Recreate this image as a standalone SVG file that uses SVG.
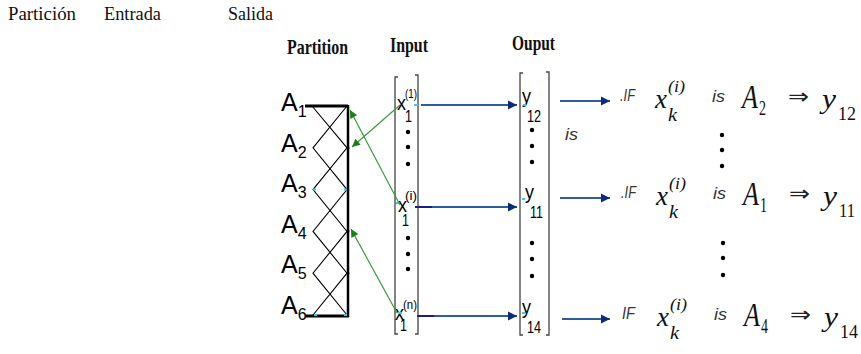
<svg xmlns="http://www.w3.org/2000/svg" width="861" height="354" viewBox="0 0 861 354">
  <defs>
    <style>
      .cap{font-family:"Liberation Serif","Times New Roman",serif;font-size:18px;fill:#111}
      .hd{font-family:"Liberation Serif","Times New Roman",serif;font-size:21px;font-weight:bold;fill:#111}
      .al{font-family:"Liberation Sans",Arial,sans-serif;font-size:25px;fill:#000}
      .as{font-family:"Liberation Sans",Arial,sans-serif;font-size:16px;fill:#000}
      .vx{font-family:"Liberation Sans",Arial,sans-serif;font-size:21px;fill:#000}
      .vs{font-family:"Liberation Sans",Arial,sans-serif;font-size:17px;fill:#000}
      .vp{font-family:"Liberation Sans",Arial,sans-serif;font-size:13px;fill:#000}
      .it{font-family:"Liberation Sans",Arial,sans-serif;font-style:italic;font-size:16px;fill:#333}
      .mi{font-family:"Liberation Serif","Times New Roman",serif;font-style:italic;fill:#111}
      .mr{font-family:"Liberation Serif","Times New Roman",serif;fill:#111}
      .imp{font-family:"DejaVu Sans",sans-serif;font-size:22px;fill:#222}
      .brk{fill:none;stroke:#444;stroke-width:1.3}
      .frame{fill:none;stroke:#000;stroke-width:3}
      .zig{fill:none;stroke:#000;stroke-width:1.1}
      .blue{stroke:#2f5d9c;stroke-width:2;fill:none}
      .navy{stroke:#1c1c82;stroke-width:2;fill:none}
      .green{stroke:#3a9b3a;stroke-width:1.2;fill:none}
      .dot{fill:#000}
      .cy{stroke:#2ad4e4;stroke-width:2}
    </style>
    <marker id="bh" markerUnits="userSpaceOnUse" viewBox="0 0 10 10" refX="10" refY="5" markerWidth="9" markerHeight="11" orient="auto">
      <path d="M0,0L10,5L0,10z" fill="#0b2a7e"/>
    </marker>
    <marker id="gh" markerUnits="userSpaceOnUse" viewBox="0 0 10 10" refX="10" refY="5" markerWidth="10" markerHeight="8" orient="auto">
      <path d="M0,0L10,5L0,10z" fill="#1e7e1e"/>
    </marker>
  </defs>

  <!-- column captions -->
  <g id="captions">
    <text class="cap" x="8" y="20" textLength="68" lengthAdjust="spacingAndGlyphs">Partición</text>
    <text class="cap" x="104" y="20" textLength="57" lengthAdjust="spacingAndGlyphs">Entrada</text>
    <text class="cap" x="228" y="20" textLength="45" lengthAdjust="spacingAndGlyphs">Salida</text>
  </g>

  <!-- partition of the input range into fuzzy sets A1..A6 -->
  <g id="partition">
    <text class="hd" x="287" y="54" textLength="61" lengthAdjust="spacingAndGlyphs">Partition</text>
    <path class="frame" d="M305,106H348"/>
    <path class="frame" d="M305,316H349"/>
    <path d="M348,105V317" stroke="#000" stroke-width="2.5" fill="none"/>
    <path class="zig" d="M312,106L347,147.8L313,189.6L347,231.4L313,273.2L347,315"/>
    <path class="zig" d="M347,106L313,147.8L347,189.6L313,231.4L347,273.2L313,315"/>
    <circle class="dot" cx="348" cy="148" r="1.5"/>
    <circle class="dot" cx="348" cy="231" r="1.5"/>
    <circle class="dot" cx="348" cy="273" r="1.5"/>
    <path class="cy" d="M313,189.6h3M344,189.6h3M314,315h3M344,315h3"/>
    <text class="al" x="281" y="111">A<tspan class="as" dy="6">1</tspan></text>
    <text class="al" x="281" y="151.5">A<tspan class="as" dy="6">2</tspan></text>
    <text class="al" x="281" y="192">A<tspan class="as" dy="6">3</tspan></text>
    <text class="al" x="281" y="232.5">A<tspan class="as" dy="6">4</tspan></text>
    <text class="al" x="281" y="273">A<tspan class="as" dy="6">5</tspan></text>
    <text class="al" x="281" y="313.5">A<tspan class="as" dy="6">6</tspan></text>
  </g>

  <!-- input vector -->
  <g id="input">
    <text class="hd" x="390" y="52" textLength="38" lengthAdjust="spacingAndGlyphs">Input</text>
    <path class="brk" d="M398,77H395V334H398"/>
    <path class="brk" d="M415,75H418V334H415"/>
    <text class="vx" x="397" y="110" textLength="9" lengthAdjust="spacingAndGlyphs">x</text>
    <text class="vs" x="405" y="122" textLength="7" lengthAdjust="spacingAndGlyphs">1</text>
    <text class="vp" x="405" y="98" textLength="12" lengthAdjust="spacingAndGlyphs">(1)</text>
    <text class="vx" x="398" y="212" textLength="9" lengthAdjust="spacingAndGlyphs">x</text>
    <text class="vs" x="402" y="226" textLength="7" lengthAdjust="spacingAndGlyphs">1</text>
    <text class="vp" x="405" y="200" textLength="12" lengthAdjust="spacingAndGlyphs">(i)</text>
    <text class="vx" x="395" y="320" textLength="9" lengthAdjust="spacingAndGlyphs">x</text>
    <text class="vs" x="400" y="331" textLength="7" lengthAdjust="spacingAndGlyphs">1</text>
    <text class="vp" x="403" y="309" textLength="14" lengthAdjust="spacingAndGlyphs">(n)</text>
    <circle class="dot" cx="408" cy="132" r="2.2"/>
    <circle class="dot" cx="408" cy="147" r="2.2"/>
    <circle class="dot" cx="408" cy="164" r="2.2"/>
    <circle class="dot" cx="408" cy="238" r="2.2"/>
    <circle class="dot" cx="408" cy="254" r="2.2"/>
    <circle class="dot" cx="408" cy="269" r="2.2"/>
    <path class="cy" d="M414,105h4M396,203h3M398,313h4"/>
  </g>

  <!-- output vector -->
  <g id="output">
    <text class="hd" x="512" y="50" textLength="43" lengthAdjust="spacingAndGlyphs">Ouput</text>
    <path class="brk" d="M523,73H520V335H523"/>
    <path class="brk" d="M546,72H549V335H546"/>
    <text class="vx" x="522" y="103" textLength="9" lengthAdjust="spacingAndGlyphs">y</text>
    <text class="vs" x="527" y="122" textLength="14" lengthAdjust="spacingAndGlyphs">12</text>
    <text class="vx" x="525" y="199" textLength="9" lengthAdjust="spacingAndGlyphs">y</text>
    <text class="vs" x="530" y="218" textLength="13" lengthAdjust="spacingAndGlyphs">11</text>
    <text class="vx" x="522" y="314" textLength="9" lengthAdjust="spacingAndGlyphs">y</text>
    <text class="vs" x="527" y="333" textLength="14" lengthAdjust="spacingAndGlyphs">14</text>
    <circle class="dot" cx="532" cy="130" r="2.2"/>
    <circle class="dot" cx="532" cy="146" r="2.2"/>
    <circle class="dot" cx="532" cy="162" r="2.2"/>
    <circle class="dot" cx="532" cy="243" r="2.2"/>
    <circle class="dot" cx="532" cy="259" r="2.2"/>
    <circle class="dot" cx="532" cy="276" r="2.2"/>
    <path class="cy" d="M523,105h3M522,199h3M522,313h3"/>
    <text class="it" x="565" y="140" textLength="13" lengthAdjust="spacingAndGlyphs">is</text>
  </g>

  <!-- rule base -->
  <g id="rule-1">
    <text class="it" x="620" y="101" font-size="17" textLength="15" lengthAdjust="spacingAndGlyphs">.IF</text>
    <text class="mi" x="655" y="108" font-size="28" textLength="12" lengthAdjust="spacingAndGlyphs">x</text>
    <text class="mi" x="668" y="92" font-size="17" textLength="17" lengthAdjust="spacingAndGlyphs">(i)</text>
    <text class="mi" x="668" y="121" font-size="19" textLength="9" lengthAdjust="spacingAndGlyphs">k</text>
    <text class="it" x="712" y="102" font-size="17" textLength="13" lengthAdjust="spacingAndGlyphs">is</text>
    <text class="mi" x="742" y="108" font-size="33" textLength="16" lengthAdjust="spacingAndGlyphs">A</text>
    <text class="mr" x="759" y="115" font-size="21" textLength="7" lengthAdjust="spacingAndGlyphs">2</text>
    <text class="imp" x="788" y="104" textLength="21" lengthAdjust="spacingAndGlyphs">⇒</text>
    <text class="mi" x="822" y="108" font-size="28" textLength="14" lengthAdjust="spacingAndGlyphs">y</text>
    <text class="mr" x="838" y="120" font-size="19" textLength="18" lengthAdjust="spacingAndGlyphs">12</text>
  </g>
  <g id="rule-2" transform="translate(1,97)">
    <text class="it" x="620" y="101" font-size="17" textLength="15" lengthAdjust="spacingAndGlyphs">.IF</text>
    <text class="mi" x="655" y="108" font-size="28" textLength="12" lengthAdjust="spacingAndGlyphs">x</text>
    <text class="mi" x="668" y="92" font-size="17" textLength="17" lengthAdjust="spacingAndGlyphs">(i)</text>
    <text class="mi" x="668" y="121" font-size="19" textLength="9" lengthAdjust="spacingAndGlyphs">k</text>
    <text class="it" x="712" y="102" font-size="17" textLength="13" lengthAdjust="spacingAndGlyphs">is</text>
    <text class="mi" x="742" y="108" font-size="33" textLength="16" lengthAdjust="spacingAndGlyphs">A</text>
    <text class="mr" x="759" y="115" font-size="21" textLength="7" lengthAdjust="spacingAndGlyphs">1</text>
    <text class="imp" x="788" y="104" textLength="21" lengthAdjust="spacingAndGlyphs">⇒</text>
    <text class="mi" x="822" y="108" font-size="28" textLength="14" lengthAdjust="spacingAndGlyphs">y</text>
    <text class="mr" x="838" y="120" font-size="19" textLength="16" lengthAdjust="spacingAndGlyphs">11</text>
  </g>
  <g id="rule-3" transform="translate(2,218)">
    <text class="it" x="620" y="101" font-size="17" textLength="13" lengthAdjust="spacingAndGlyphs">IF</text>
    <text class="mi" x="655" y="108" font-size="28" textLength="12" lengthAdjust="spacingAndGlyphs">x</text>
    <text class="mi" x="668" y="92" font-size="17" textLength="17" lengthAdjust="spacingAndGlyphs">(i)</text>
    <text class="mi" x="668" y="121" font-size="19" textLength="9" lengthAdjust="spacingAndGlyphs">k</text>
    <text class="it" x="712" y="102" font-size="17" textLength="13" lengthAdjust="spacingAndGlyphs">is</text>
    <text class="mi" x="742" y="108" font-size="33" textLength="16" lengthAdjust="spacingAndGlyphs">A</text>
    <text class="mr" x="759" y="115" font-size="21" textLength="7" lengthAdjust="spacingAndGlyphs">4</text>
    <text class="imp" x="788" y="104" textLength="21" lengthAdjust="spacingAndGlyphs">⇒</text>
    <text class="mi" x="822" y="108" font-size="28" textLength="14" lengthAdjust="spacingAndGlyphs">y</text>
    <text class="mr" x="838" y="120" font-size="19" textLength="18" lengthAdjust="spacingAndGlyphs">14</text>
  </g>
  <g id="rule-ellipses">
    <circle class="dot" cx="722" cy="135" r="2.2"/>
    <circle class="dot" cx="722" cy="150" r="2.2"/>
    <circle class="dot" cx="722" cy="166" r="2.2"/>
    <circle class="dot" cx="723" cy="243" r="2.2"/>
    <circle class="dot" cx="723" cy="258" r="2.2"/>
    <circle class="dot" cx="723" cy="275" r="2.2"/>
  </g>

  <!-- connectors -->
  <g id="connectors">
    <path class="blue" d="M421,105H517" marker-end="url(#bh)"/>
    <path class="blue" d="M421,207H517" marker-end="url(#bh)"/>
    <path class="blue" d="M421,316H517" marker-end="url(#bh)"/>
    <path class="navy" d="M415,207H432M417,316H434"/>
    <path class="blue" d="M560,101H610" marker-end="url(#bh)"/>
    <path class="blue" d="M560,198H610" marker-end="url(#bh)"/>
    <path class="blue" d="M562,319H610" marker-end="url(#bh)"/>
    <path class="green" d="M400,105L352,147" marker-end="url(#gh)"/>
    <path class="green" d="M400,205L350,110" marker-end="url(#gh)"/>
    <path class="green" d="M397,313L351,229" marker-end="url(#gh)"/>
  </g>
</svg>
